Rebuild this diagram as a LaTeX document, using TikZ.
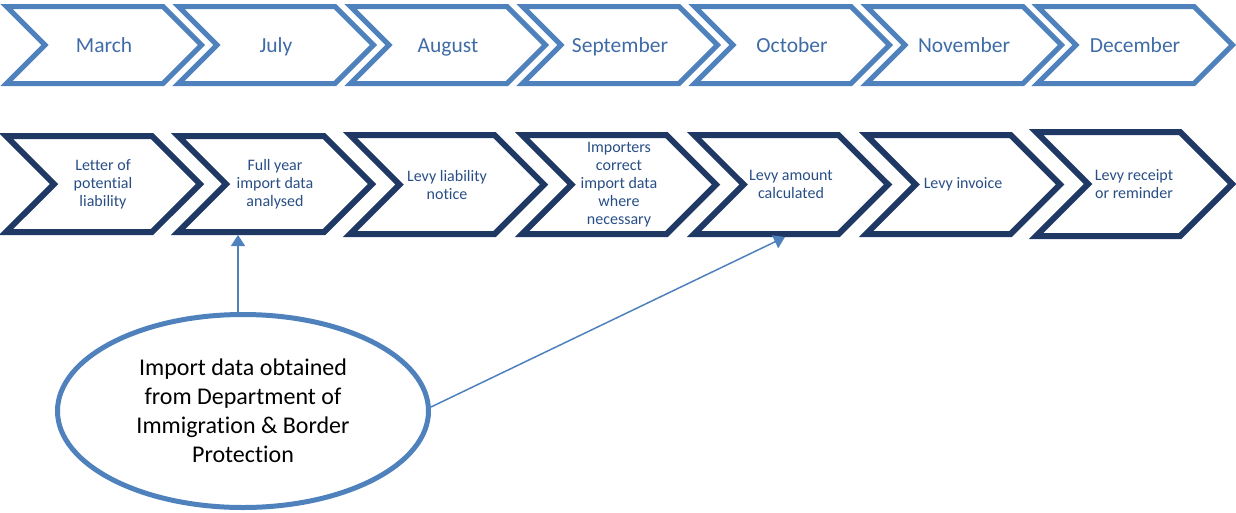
\documentclass[tikz,border=0pt]{standalone}
\usepackage{fontspec}
\setmainfont{Carlito}[Ligatures=NoCommon]
\usetikzlibrary{shapes.symbols,shapes.geometric,arrows.meta}
\definecolor{monthblue}{RGB}{79,129,189}
\definecolor{monthtext}{RGB}{63,108,166}
\definecolor{stageblue}{RGB}{31,56,100}
\definecolor{stagetext}{RGB}{40,78,134}

\begin{document}
\begin{tikzpicture}[x=1pt,y=-1pt,line join=miter,
  month/.style={signal,signal from=west,signal to=east,draw=monthblue,line width=5pt,minimum width=195pt,minimum height=77pt,inner sep=0pt,text height=14pt,text depth=0pt,text=monthtext,font=\fontsize{21.5}{25}\selectfont},
  stage/.style={signal,signal from=west,signal to=east,draw=stageblue,line width=6pt,minimum width=194pt,minimum height=96pt,inner sep=0pt,align=center,text=stagetext,font=\fontsize{16}{18}\selectfont},
  feed/.style={draw=monthblue,line width=1.5pt,-{Triangle[length=11pt,width=14pt]},fill=monthblue}]
\useasboundingbox (0,0) rectangle (1236,512);
% months
\node[month] (mar) at (104,45) {March};
\node[month] (jul) at (276,45) {July};
\node[month] (aug) at (448,45) {August};
\node[month] (sep) at (620,45) {September};
\node[month] (oct) at (792,45) {October};
\node[month] (nov) at (964,45) {November};
\node[month] (dec) at (1135,45) {December};
% process steps
\node[stage] (lpl) at (103,184) {Letter of\\potential\\liability};
\node[stage] (fya) at (275,184) {Full year\\import data\\analysed};
\node[stage,minimum height=99pt] (lln) at (447,184.5) {Levy liability\\notice};
\node[stage,minimum height=99pt] (icd) at (619,184.5) {Importers\\correct\\import data\\where\\necessary};
\node[stage,minimum height=99pt] (amt) at (791,184.5) {Levy amount\\calculated};
\node[stage,minimum height=99pt] (inv) at (963,184.5) {Levy invoice};
\node[stage,minimum width=196pt,minimum height=104pt] (rcp) at (1134,184) {Levy receipt\\or reminder};
% data source
\node[ellipse,draw=monthblue,line width=5pt,minimum width=371pt,minimum height=193pt,inner sep=0pt,align=center,font=\fontsize{24}{29}\selectfont] (src) at (243,411) {Import data obtained\\from Department of\\Immigration \& Border\\Protection};
\draw[feed] ([xshift=-5pt]src.north) -- ([xshift=-5pt]src.north |- fya.south);
\draw[feed] ([yshift=4pt]src.east) -- ([xshift=-6pt]amt.south);
\end{tikzpicture}
\end{document}
